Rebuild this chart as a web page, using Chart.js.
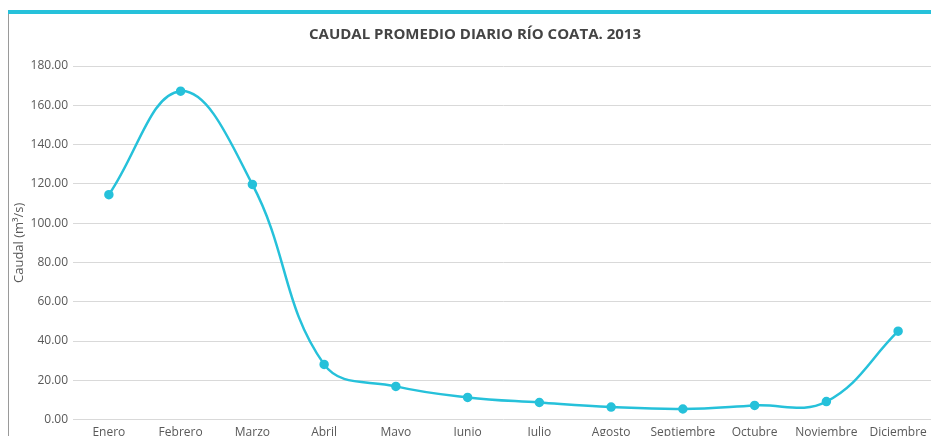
<!DOCTYPE html>
<html>
<head>
<meta charset="utf-8">
<script src="https://cdn.jsdelivr.net/npm/chart.js@4"></script>
<style>
  html, body { margin: 0; padding: 0; background: #fff; overflow: hidden; width: 931px; height: 436px; }
  #bar { position: absolute; left: 8px; top: 10px; width: 923px; height: 4px; background: #26c1da; }
  #edge { position: absolute; left: 8px; top: 14px; width: 1px; height: 430px; background: #9a9a9a; }
  #wrap { position: absolute; left: 10px; top: 14px; width: 930px; height: 432px; }
</style>
</head>
<body>
<div id="bar"></div>
<div id="edge"></div>
<div id="wrap"><canvas id="chart"></canvas></div>
<script>
const months = ['Enero', 'Febrero', 'Marzo', 'Abril', 'Mayo', 'Junio', 'Julio', 'Agosto', 'Septiembre', 'Octubre', 'Noviembre', 'Diciembre'];
const caudal = [114.5, 167.2, 119.7, 28.1, 16.9, 11.3, 8.7, 6.4, 5.4, 7.2, 9.2, 45.0];
const yTicks = [0, 20, 40, 60, 80, 100, 120, 140, 160, 180];

const font = "'Open Sans', 'Liberation Sans', sans-serif";
const cyan = '#26c1da';

new Chart(document.getElementById('chart'), {
  type: 'line',
  data: {
    labels: months,
    datasets: [{
      label: 'Caudal',
      data: caudal,
      borderColor: cyan,
      backgroundColor: cyan,
      borderWidth: 2.5,
      pointRadius: 3.5,
      pointHoverRadius: 3.5,
      tension: 0.4
    }]
  },
  options: {
    responsive: true,
    maintainAspectRatio: false,
    animation: false,
    layout: { padding: 0 },
    plugins: {
      legend: { display: false },
      tooltip: { enabled: false },
      title: {
        display: true,
        text: 'CAUDAL PROMEDIO DIARIO RÍO COATA. 2013',
        color: '#444444',
        font: { family: font, size: 15, weight: 'bold' },
        padding: { top: 12, bottom: 22 }
      }
    },
    scales: {
      x: {
        offset: true,
        grid: { display: false, drawTicks: false },
        border: { display: false },
        ticks: { color: '#595959', font: { family: font, size: 12 }, padding: 6, maxRotation: 0, autoSkip: false }
      },
      y: {
        min: 0,
        max: 180,
        afterFit: (s) => { s.width = 63; },
        afterBuildTicks: (s) => { s.ticks = yTicks.map(v => ({ value: v })); },
        grid: { color: '#d9d9d9', drawTicks: false },
        border: { display: false },
        ticks: {
          color: '#595959',
          font: { family: font, size: 12 },
          padding: 5,
          callback: (v) => v.toFixed(2)
        },
        title: {
          display: true,
          text: 'Caudal (m³/s)',
          color: '#595959',
          font: { family: font, size: 13 },
          padding: { top: 1, bottom: 0 }
        }
      }
    }
  }
});
</script>
</body>
</html>
